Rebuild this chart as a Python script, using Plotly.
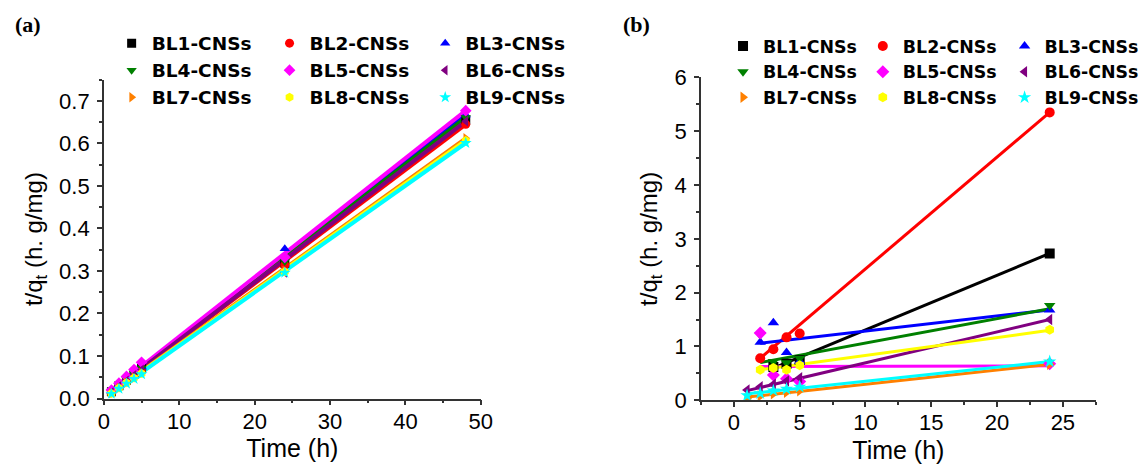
import plotly.graph_objects as go

names = ["BL1-CNSs", "BL2-CNSs", "BL3-CNSs", "BL4-CNSs", "BL5-CNSs",
         "BL6-CNSs", "BL7-CNSs", "BL8-CNSs", "BL9-CNSs"]
colors = ["#000000", "#FF0000", "#0000FF", "#008000", "#FF00FF",
          "#800080", "#FF8000", "#FFFF00", "#00FFFF"]
symbols = ["square", "circle", "triangle-up", "triangle-down", "diamond",
           "triangle-left", "triangle-right", "hexagon", "star"]

# ---- panel (a) ----
time_a = [1, 2, 3, 4, 5, 24, 48]
a_BL1 = [0.016, 0.030, 0.043, 0.057, 0.071, 0.318, 0.655]
a_BL2 = [0.015, 0.029, 0.042, 0.056, 0.069, 0.314, 0.645]
a_BL3 = [0.017, 0.032, 0.046, 0.060, 0.074, 0.352, 0.667]
a_BL4 = [0.016, 0.031, 0.045, 0.059, 0.072, 0.322, 0.661]
a_BL5 = [0.020, 0.036, 0.052, 0.068, 0.085, 0.332, 0.677]
a_BL6 = [0.015, 0.029, 0.042, 0.055, 0.068, 0.296, 0.652]
a_BL7 = [0.012, 0.025, 0.037, 0.049, 0.060, 0.300, 0.612]
a_BL8 = [0.012, 0.025, 0.037, 0.048, 0.059, 0.298, 0.607]
a_BL9 = [0.011, 0.023, 0.035, 0.046, 0.057, 0.296, 0.601]
a_values = [a_BL1, a_BL2, a_BL3, a_BL4, a_BL5, a_BL6, a_BL7, a_BL8, a_BL9]
fit_a_time = [1, 48]
fit_a_start = [0.017, 0.016, 0.018, 0.017, 0.020, 0.016, 0.013, 0.012, 0.011]
fit_a_end = [0.655, 0.645, 0.667, 0.661, 0.677, 0.652, 0.612, 0.607, 0.601]

# ---- panel (b) ----
b_time = [
    [3, 4, 5, 24],
    [2, 3, 4, 5, 24],
    [2, 3, 4, 5, 24],
    [2, 3, 4, 5, 24],
    [2, 3, 4, 5, 24],
    [1, 2, 3, 4, 5, 24],
    [1, 2, 3, 4, 5, 24],
    [2, 3, 4, 5, 24],
    [1, 2, 3, 4, 5, 24],
]
b_BL1 = [0.62, 0.68, 0.75, 2.73]
b_BL2 = [0.78, 0.95, 1.17, 1.24, 5.35]
b_BL3 = [1.08, 1.44, 0.89, 0.72, 1.68]
b_BL4 = [1.22, 0.72, 0.70, 0.78, 1.76]
b_BL5 = [1.25, 0.47, 0.40, 0.35, 0.68]
b_BL6 = [0.19, 0.25, 0.30, 0.36, 0.42, 1.50]
b_BL7 = [0.03, 0.08, 0.12, 0.15, 0.18, 0.67]
b_BL8 = [0.57, 0.60, 0.57, 0.65, 1.31]
b_BL9 = [0.09, 0.13, 0.18, 0.21, 0.25, 0.72]
b_values = [b_BL1, b_BL2, b_BL3, b_BL4, b_BL5, b_BL6, b_BL7, b_BL8, b_BL9]
fit_b_t0 = [3, 2, 2, 2, 2, 1, 1, 2, 1]
fit_b_t1 = [24, 24, 24, 24, 24, 24, 24, 24, 24]
fit_b_start = [0.60, 0.78, 1.06, 0.70, 0.63, 0.18, 0.06, 0.57, 0.12]
fit_b_end = [2.73, 5.35, 1.68, 1.70, 0.64, 1.50, 0.67, 1.30, 0.72]

FONT = "Liberation Sans"
LEGFONT = "DejaVu Sans"
fig = go.Figure()

legend_cols_a = ["legend", "legend2", "legend3"]
legend_cols_b = ["legend4", "legend5", "legend6"]

for i in range(9):
    fig.add_trace(go.Scatter(
        x=fit_a_time, y=[fit_a_start[i], fit_a_end[i]], mode="lines",
        line=dict(color=colors[i], width=4), showlegend=False,
        xaxis="x", yaxis="y", hoverinfo="skip"))
for i in range(9):
    fig.add_trace(go.Scatter(
        x=time_a, y=a_values[i], mode="markers", name="<b>" + names[i] + "</b>",
        marker=dict(symbol=symbols[i], color=colors[i], size=9),
        legend=legend_cols_a[i % 3], legendgroup="a%d" % i,
        xaxis="x", yaxis="y"))

for i in range(9):
    fig.add_trace(go.Scatter(
        x=[fit_b_t0[i], fit_b_t1[i]], y=[fit_b_start[i], fit_b_end[i]],
        mode="lines", line=dict(color=colors[i], width=3), showlegend=False,
        xaxis="x2", yaxis="y2", hoverinfo="skip"))
for i in range(9):
    fig.add_trace(go.Scatter(
        x=b_time[i], y=b_values[i], mode="markers", name="<b>" + names[i] + "</b>",
        marker=dict(symbol=symbols[i], color=colors[i], size=10),
        legend=legend_cols_b[i % 3], legendgroup="b%d" % i,
        xaxis="x2", yaxis="y2"))

axis_common = dict(
    showline=True, linecolor="#333333", linewidth=1.5, showgrid=False,
    zeroline=False, ticks="outside", ticklen=5, tickwidth=1.5,
    tickcolor="#333333", tickfont=dict(family=FONT, size=22, color="#000"),
)
minor_common = dict(ticks="outside", ticklen=3, tickcolor="#333333")

ytitle = dict(text="t/q<sub>t</sub> (h. g/mg)", standoff=10,
              font=dict(family=FONT, size=24, color="#000"))
xtitle = dict(text="Time (h)", standoff=7,
              font=dict(family=FONT, size=25, color="#000"))

layout = dict(
    width=1144, height=476,
    margin=dict(l=0, r=0, t=0, b=0),
    paper_bgcolor="white", plot_bgcolor="white",
    xaxis=dict(domain=[0.088, 0.427], range=[0, 50], dtick=10,
               minor=dict(dtick=5, **minor_common), ticklabelstandoff=-3,
               anchor="y", title=xtitle, **axis_common),
    yaxis=dict(domain=[0.143, 0.850], range=[0, 0.75], dtick=0.1, tickformat=".1f",
               minor=dict(dtick=0.05, **minor_common), ticklabelstandoff=3,
               anchor="x", title=ytitle, **axis_common),
    xaxis2=dict(domain=[0.625, 0.98], range=[-2.5, 27.5], tick0=0, dtick=5,
                minor=dict(dtick=2.5, **minor_common), ticklabelstandoff=-3,
                anchor="y2", title=xtitle, **axis_common),
    yaxis2=dict(domain=[0.139, 0.855], range=[0, 6], dtick=1,
                minor=dict(dtick=0.5, **minor_common), ticklabelstandoff=3,
                anchor="x2", title=ytitle, **axis_common),
    annotations=[
        dict(text="<b>(a)</b>", x=0.006, y=0.972, xref="paper", yref="paper",
             xanchor="left", yanchor="middle", showarrow=False,
             font=dict(family="Liberation Serif", size=22, color="#000")),
        dict(text="<b>(b)</b>", x=0.553, y=0.972, xref="paper", yref="paper",
             xanchor="left", yanchor="middle", showarrow=False,
             font=dict(family="Liberation Serif", size=22, color="#000")),
    ],
)

leg_x_a = [0.095, 0.237, 0.377]
leg_x_b = [0.6448, 0.7705, 0.898]
for k, lx in enumerate(leg_x_a):
    layout[legend_cols_a[k]] = dict(
        x=lx, y=0.972, xanchor="left", yanchor="top",
        font=dict(family=LEGFONT, size=18.5, color="#000"),
        bgcolor="rgba(0,0,0,0)", tracegroupgap=0, orientation="v")
for k, lx in enumerate(leg_x_b):
    layout[legend_cols_b[k]] = dict(
        x=lx, y=0.964, xanchor="left", yanchor="top",
        font=dict(family=LEGFONT, size=17.4, color="#000"),
        bgcolor="rgba(0,0,0,0)", tracegroupgap=0, orientation="v")

fig.update_layout(**layout)
fig.write_html("out.html")
